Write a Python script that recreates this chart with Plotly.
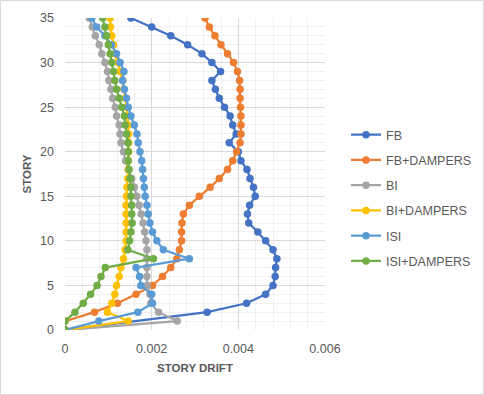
import plotly.graph_objects as go

stories = list(range(0, 36))

fb = [0, None, 0.00328, 0.00419, 0.00463, 0.00480, 0.00485, 0.00486, 0.00489, 0.00480,
      0.00463, 0.00445, 0.00424, 0.00421, 0.00426, 0.00439, 0.00435, 0.00427, 0.00420, 0.00406,
      0.00400, 0.00379, 0.00395, 0.00387, 0.00381, 0.00368, 0.00356, 0.00347, 0.00339, 0.00359,
      0.00339, 0.00316, 0.00283, 0.00244, 0.00200, 0.00152]
fb_dampers = [0, 0, 0.00068, 0.00121, 0.00164, 0.00202, 0.00225, 0.00244, 0.00258, 0.00264,
              0.00269, 0.00269, 0.00270, 0.00273, 0.00287, 0.00310, 0.00335, 0.00356, 0.00375, 0.00387,
              0.00396, 0.00404, 0.00406, 0.00406, 0.00406, 0.00405, 0.00404, 0.00404, 0.00403, 0.00398,
              0.00389, 0.00375, 0.00360, 0.00346, 0.00333, 0.00323]
bi = [0, 0.00259, 0.00216, 0.00198, 0.00196, 0.00190, 0.00189, 0.00189, 0.00189, 0.00189,
      0.00187, 0.00184, 0.00180, 0.00176, 0.00171, 0.00166, 0.00160, 0.00154, 0.00146, 0.00140,
      0.00135, 0.00129, 0.00127, 0.00125, 0.00119, 0.00116, 0.00110, 0.00106, 0.00101, 0.00098,
      0.00092, 0.00085, 0.00079, 0.00070, 0.00063, 0.00056]
bi_dampers = [0, 0.00146, 0.00098, 0.00108, 0.00115, 0.00119, 0.00125, 0.00129, 0.00135, 0.00139,
              0.00141, 0.00141, 0.00141, 0.00141, 0.00141, 0.00142, 0.00143, 0.00145, 0.00146, 0.00146,
              0.00147, 0.00147, 0.00147, 0.00146, 0.00144, 0.00142, 0.00139, 0.00136, 0.00133, 0.00127,
              0.00122, 0.00115, 0.00112, 0.00108, 0.00105, 0.00104]
isi = [0, 0.00078, 0.00168, 0.00202, 0.00200, 0.00175, 0.00172, 0.00164, 0.00287, 0.00227,
       0.00212, 0.00202, 0.00196, 0.00192, 0.00189, 0.00185, 0.00183, 0.00181, 0.00179, 0.00177,
       0.00173, 0.00169, 0.00166, 0.00160, 0.00152, 0.00146, 0.00142, 0.00137, 0.00133, 0.00136,
       0.00127, 0.00119, 0.00107, 0.00092, 0.00073, 0.00062]
isi_dampers = [0, 0, 0.00023, 0.00042, 0.00059, 0.00074, 0.00083, 0.00093, 0.00204, 0.00145,
               0.00149, 0.00152, 0.00155, 0.00154, 0.00154, 0.00152, 0.00152, 0.00150, 0.00148, 0.00146,
               0.00146, 0.00145, 0.00142, 0.00139, 0.00137, 0.00131, 0.00125, 0.00119, 0.00115, 0.00112,
               0.00108, 0.00104, 0.00100, 0.00096, 0.00092, 0.00087]

series_names = ["FB", "FB+DAMPERS", "BI", "BI+DAMPERS", "ISI", "ISI+DAMPERS"]
series_values = [fb, fb_dampers, bi, bi_dampers, isi, isi_dampers]
series_colors = ["#4472C4", "#ED7D31", "#A5A5A5", "#FFC000", "#5B9BD5", "#70AD47"]

x_tickvals = [0, 0.002, 0.004, 0.006]
x_ticktext = ["0", "0.002", "0.004", "0.006"]
y_tickvals = [0, 5, 10, 15, 20, 25, 30, 35]

W, H = 484, 395
ML, MR, MT, MB = 65, 159, 18, 65

fig = go.Figure()
for i, (name, vals, col) in enumerate(zip(series_names, series_values, series_colors)):
    fig.add_trace(go.Scatter(
        x=vals, y=stories, name=name, mode="lines+markers",
        connectgaps=True, legendgroup=f"g{i}",
        line=dict(color=col, width=2.25),
        marker=dict(color=col, size=7.5, line=dict(width=0)),
    ))

font_fam = "Liberation Sans, Arial, sans-serif"
txt_col = "#595959"

pw = W - ML - MR
ph = H - MT - MB

fig.update_layout(
    width=W, height=H,
    margin=dict(l=ML, r=MR, t=MT, b=MB, pad=0, autoexpand=False),
    paper_bgcolor="white", plot_bgcolor="white",
    font=dict(family=font_fam, color=txt_col, size=12.5),
    showlegend=True,
    legend=dict(
        x=(346 - ML) / pw, y=(H - MB - 120) / ph, xanchor="left", yanchor="top",
        font=dict(size=12.5, color=txt_col), traceorder="grouped",
        tracegroupgap=6, bgcolor="rgba(0,0,0,0)", itemwidth=30,
    ),
    xaxis=dict(
        range=[0, 0.006], tickvals=x_tickvals, ticktext=x_ticktext,
        showgrid=True, gridcolor="#D9D9D9", gridwidth=1, zeroline=False,
        showline=False, ticks="", ticklabelstandoff=9, automargin=False,
        minor=dict(dtick=0.0004, showgrid=True, gridcolor="#F0F0F0", gridwidth=1),
        title=dict(text="<b>STORY DRIFT</b>", font=dict(size=11.5, color=txt_col), standoff=9),
        fixedrange=True,
    ),
    yaxis=dict(
        range=[0, 35], tickvals=y_tickvals,
        showgrid=True, gridcolor="#D9D9D9", gridwidth=1, zeroline=False,
        showline=False, ticks="", ticklabelstandoff=10, automargin=False,
        minor=dict(dtick=1, showgrid=True, gridcolor="#F0F0F0", gridwidth=1),
        title=dict(text="<b>STORY</b>", font=dict(size=11.5, color=txt_col), standoff=6),
        fixedrange=True,
    ),
)

# chart-area border
fig.add_shape(
    type="rect", xref="paper", yref="paper",
    x0=(0.5 - ML) / pw, x1=(W - 0.5 - ML) / pw,
    y0=(H - MB - (H - 0.5)) / ph, y1=(H - MB - 0.5) / ph,
    line=dict(color="#D9D9D9", width=1), fillcolor="rgba(0,0,0,0)", layer="below",
)

fig.write_html(
    "out.html",
    config={"displayModeBar": False, "staticPlot": True},
    post_script="document.body.style.margin='0';document.body.style.padding='0';",
)
